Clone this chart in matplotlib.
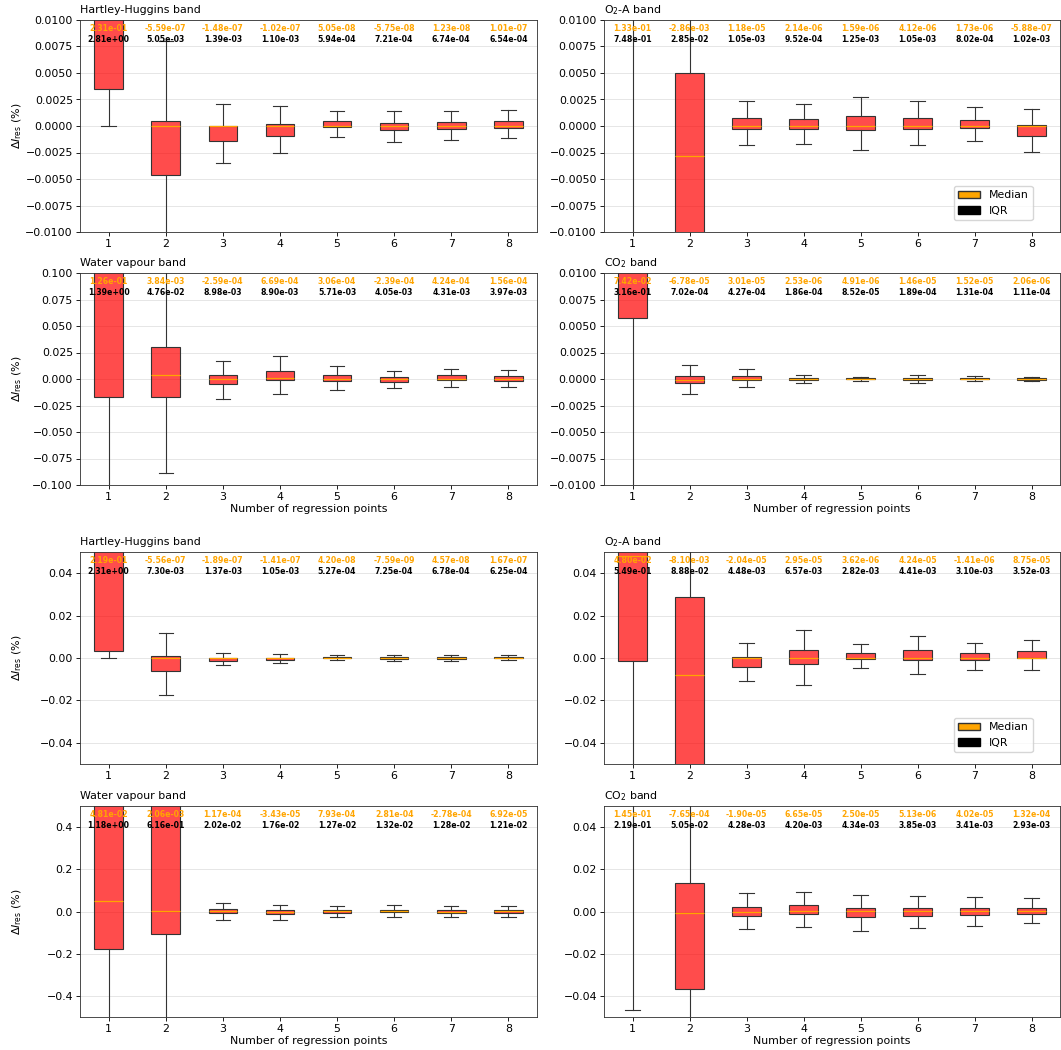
import matplotlib
matplotlib.use("Agg")
import matplotlib.pyplot as plt
from matplotlib.patches import Patch
from matplotlib.transforms import blended_transform_factory

# Number of regression points (x positions of the boxes)
points = [1, 2, 3, 4, 5, 6, 7, 8]

# ---- Set A (upper block) ----
hh_a_med = [2.31e-01, -5.59e-07, -1.48e-07, -1.02e-07, 5.05e-08, -5.75e-08, 1.23e-08, 1.01e-07]
hh_a_iqr = [2.81e+00, 5.05e-03, 1.39e-03, 1.10e-03, 5.94e-04, 7.21e-04, 6.74e-04, 6.54e-04]
hh_a_q1 = [0.0035, -0.0046, -0.0014, -0.0009, -0.0001, -0.0004, -0.0003, -0.00015]
hh_a_min = [0.0, None, None, None, None, None, None, None]

o2_a_med = [1.33e-01, -2.86e-03, 1.18e-05, 2.14e-06, 1.59e-06, 4.12e-06, 1.73e-06, -5.88e-07]
o2_a_iqr = [7.48e-01, 2.85e-02, 1.05e-03, 9.52e-04, 1.25e-03, 1.05e-03, 8.02e-04, 1.02e-03]
o2_a_q1 = [0.02, -0.0235, -0.00025, -0.0003, -0.00035, -0.00025, -0.0002, -0.0009]
o2_a_min = [None] * 8

wv_a_med = [1.26e-01, 3.84e-03, -2.59e-04, 6.69e-04, 3.06e-04, -2.39e-04, 4.24e-04, 1.56e-04]
wv_a_iqr = [1.39e+00, 4.76e-02, 8.98e-03, 8.90e-03, 5.71e-03, 4.05e-03, 4.31e-03, 3.97e-03]
wv_a_q1 = [-0.0174, -0.0174, -0.005, -0.001, -0.0022, -0.0025, -0.001, -0.0015]
wv_a_min = [None] * 8

co2_a_med = [7.42e-02, -6.78e-05, 3.01e-05, 2.53e-06, 4.91e-06, 1.46e-05, 1.52e-05, 2.06e-06]
co2_a_iqr = [3.16e-01, 7.02e-04, 4.27e-04, 1.86e-04, 8.52e-05, 1.89e-04, 1.31e-04, 1.11e-04]
co2_a_q1 = [0.0058, -0.0004, -0.00013, -0.00009, -0.000035, -0.00007, -0.00003, -0.00005]
co2_a_min = [None] * 8

# ---- Set B (lower block) ----
hh_b_med = [2.19e-01, -5.56e-07, -1.89e-07, -1.41e-07, 4.20e-08, -7.59e-09, 4.57e-08, 1.67e-07]
hh_b_iqr = [2.31e+00, 7.30e-03, 1.37e-03, 1.05e-03, 5.27e-04, 7.25e-04, 6.78e-04, 6.25e-04]
hh_b_q1 = [0.0035, -0.0063, -0.0012, -0.00085, -0.00013, -0.00042, -0.00028, -0.00013]
hh_b_min = [0.0, None, None, None, None, None, None, None]

o2_b_med = [4.80e-02, -8.10e-03, -2.04e-05, 2.95e-05, 3.62e-06, 4.24e-05, -1.41e-06, 8.75e-05]
o2_b_iqr = [5.49e-01, 8.88e-02, 4.48e-03, 6.57e-03, 2.82e-03, 4.41e-03, 3.10e-03, 3.52e-03]
o2_b_q1 = [-0.0016, -0.0602, -0.0042, -0.003, -0.0006, -0.0008, -0.0009, -0.0002]
o2_b_min = [None] * 8

wv_b_med = [4.81e-02, 2.06e-03, 1.17e-04, -3.43e-05, 7.93e-04, 2.81e-04, -2.78e-04, 6.92e-05]
wv_b_iqr = [1.18e+00, 6.16e-01, 2.02e-02, 1.76e-02, 1.27e-02, 1.32e-02, 1.28e-02, 1.21e-02]
wv_b_q1 = [-0.18, -0.106, -0.008, -0.0116, -0.0057, -0.0042, -0.0068, -0.0056]
wv_b_min = [None] * 8

co2_b_med = [1.45e-01, -7.65e-04, -1.90e-05, 6.65e-05, 2.50e-05, 5.13e-06, 4.02e-05, 1.32e-04]
co2_b_iqr = [2.19e-01, 5.05e-02, 4.28e-03, 4.20e-03, 4.34e-03, 3.85e-03, 3.41e-03, 2.93e-03]
co2_b_q1 = [0.06, -0.0368, -0.002, -0.0012, -0.0028, -0.0021, -0.0017, -0.0011]
co2_b_min = [-0.0465, None, None, None, None, None, None, None]

plt.rcParams.update({
    "font.size": 7.9,
    "axes.titlesize": 7.9,
    "axes.labelsize": 7.9,
    "xtick.labelsize": 7.9,
    "ytick.labelsize": 7.9,
    "legend.fontsize": 7.8,
    "xtick.major.size": 2.7,
    "ytick.major.size": 2.7,
    "xtick.major.width": 0.62,
    "ytick.major.width": 0.62,
    "xtick.major.pad": 2.0,
    "ytick.major.pad": 2.4,
    "axes.linewidth": 0.62,
    "axes.titlepad": 4.7,
    "axes.labelpad": 2.0,
    "axes.edgecolor": "#333333",
})

W, H = 1061, 1050
fig = plt.figure(figsize=(W / 100, H / 100), dpi=100)


def add_panel(x0, x1, y0, y1):
    return fig.add_axes([x0 / W, 1 - y1 / H, (x1 - x0) / W, (y1 - y0) / H])


def draw(ax, med, iqr, q1, dmin, title, lim, ticks, ylabel=False, xlabel=False, legend=False):
    stats = []
    for m, r, lo_q, mn in zip(med, iqr, q1, dmin):
        q3 = lo_q + r
        lo = lo_q - 1.5 * r
        if mn is not None:
            lo = max(lo, mn)
        stats.append(dict(med=m, q1=lo_q, q3=q3, whislo=lo, whishi=q3 + 1.5 * r, fliers=[]))
    ax.bxp(stats, positions=points, widths=0.5, patch_artist=True, showfliers=False,
           boxprops=dict(facecolor=(1.0, 0.0, 0.0, 0.7), edgecolor="#333333", linewidth=0.8),
           medianprops=dict(color="orange", linewidth=0.9),
           whiskerprops=dict(color="#333333", linewidth=0.8),
           capprops=dict(color="#333333", linewidth=0.8))
    ax.set_xlim(0.5, 8.5)
    ax.set_ylim(-lim, lim)
    ax.set_yticks(ticks)
    ax.set_xticks(points)
    ax.set_xticklabels([str(p) for p in points])
    ax.yaxis.grid(True, color="#e6e6e6", linewidth=0.7)
    ax.set_axisbelow(True)
    ax.set_title(title, loc="left")
    trans = blended_transform_factory(ax.transData, ax.transAxes)
    for p, m, r in zip(points, med, iqr):
        ax.text(p, 0.961, f"{m:.2e}", transform=trans, ha="center", va="center",
                color="orange", fontsize=5.6, fontweight="bold")
        ax.text(p, 0.909, f"{r:.2e}", transform=trans, ha="center", va="center",
                color="black", fontsize=5.6, fontweight="bold")
    if ylabel:
        ax.set_ylabel(r"$\Delta I_{\rm res}$ (%)")
        ax.yaxis.set_label_coords(-0.122, 0.5)
    if xlabel:
        ax.set_xlabel("Number of regression points")
    if legend:
        handles = [Patch(facecolor="orange", edgecolor="#333333", label="Median"),
                   Patch(facecolor="black", edgecolor="black", label="IQR")]
        ax.legend(handles=handles, loc="lower right", bbox_to_anchor=(0.94, 0.057),
                  borderaxespad=0)


t_small = [-0.01, -0.0075, -0.005, -0.0025, 0.0, 0.0025, 0.005, 0.0075, 0.01]
t_wv_a = [-0.1, -0.075, -0.05, -0.025, 0.0, 0.025, 0.05, 0.075, 0.1]
t_mid = [-0.04, -0.02, 0.0, 0.02, 0.04]
t_wv_b = [-0.4, -0.2, 0.0, 0.2, 0.4]

LX, RX = (80, 537), (604, 1060)
rows = [(20, 232), (273, 485), (552, 764), (806, 1017)]

ax = add_panel(*LX, *rows[0])
draw(ax, hh_a_med, hh_a_iqr, hh_a_q1, hh_a_min, "Hartley-Huggins band", 0.01, t_small, ylabel=True)
ax = add_panel(*RX, *rows[0])
draw(ax, o2_a_med, o2_a_iqr, o2_a_q1, o2_a_min, r"O$_2$-A band", 0.01, t_small, legend=True)
ax = add_panel(*LX, *rows[1])
draw(ax, wv_a_med, wv_a_iqr, wv_a_q1, wv_a_min, "Water vapour band", 0.1, t_wv_a, ylabel=True, xlabel=True)
ax = add_panel(*RX, *rows[1])
draw(ax, co2_a_med, co2_a_iqr, co2_a_q1, co2_a_min, r"CO$_2$ band", 0.01, t_small, xlabel=True)

ax = add_panel(*LX, *rows[2])
draw(ax, hh_b_med, hh_b_iqr, hh_b_q1, hh_b_min, "Hartley-Huggins band", 0.05, t_mid, ylabel=True)
ax = add_panel(*RX, *rows[2])
draw(ax, o2_b_med, o2_b_iqr, o2_b_q1, o2_b_min, r"O$_2$-A band", 0.05, t_mid, legend=True)
ax = add_panel(*LX, *rows[3])
draw(ax, wv_b_med, wv_b_iqr, wv_b_q1, wv_b_min, "Water vapour band", 0.5, t_wv_b, ylabel=True, xlabel=True)
ax = add_panel(*RX, *rows[3])
draw(ax, co2_b_med, co2_b_iqr, co2_b_q1, co2_b_min, r"CO$_2$ band", 0.05, t_mid, xlabel=True)

fig.savefig("out.png", dpi=100)
